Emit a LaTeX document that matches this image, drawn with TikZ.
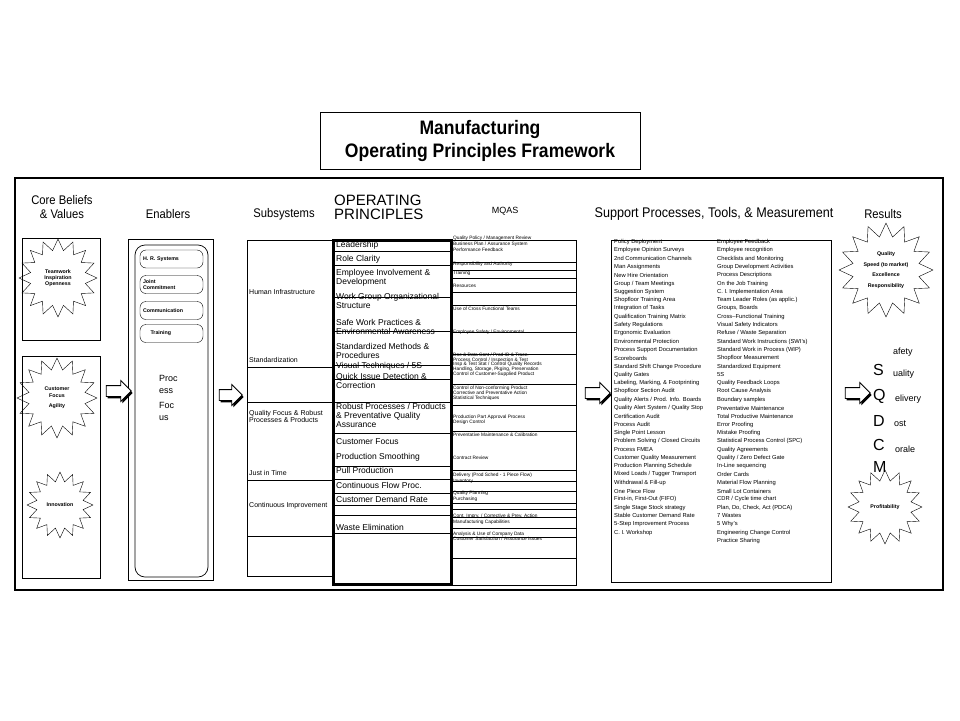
\documentclass[tikz,border=0pt]{standalone}
\usepackage{fontspec}
\setmainfont{Liberation Sans}
\newfontfamily\narrowsf[FakeStretch=0.9]{Liberation Sans}
\usetikzlibrary{shapes, arrows.meta, positioning, calc, shadows}

\tikzset{
  colbox/.style={draw, line width=0.7pt},
  heading/.style={font=\narrowsf\fontsize{12.5}{14}\selectfont, align=center, inner sep=0pt},
  burst/.style={draw, star, star points=16, star point ratio=1.4, minimum size=#1, inner sep=0pt, align=center, font=\bfseries\fontsize{5.3}{6.3}\selectfont},
  pill/.style={draw, rounded corners=6pt, minimum width=63pt, minimum height=18pt, text width=57pt, align=left, inner sep=1pt, font=\bfseries\fontsize{5.3}{6}\selectfont},
  principle/.style={anchor=west, inner sep=0pt, align=left, font=\fontsize{8.5}{9}\selectfont},
  subsys/.style={anchor=west, inner sep=0pt, align=left, font=\fontsize{7}{7.5}\selectfont},
  mqasitem/.style={anchor=west, inner sep=0pt, font=\fontsize{4.8}{5.2}\selectfont},
  toolitem/.style={anchor=west, inner sep=0pt, font=\fontsize{5.8}{6.5}\selectfont},
  blockarrow/.style={single arrow, draw, line width=0.8pt, fill=white, minimum height=25pt, text height=5pt, text depth=5pt, single arrow head extend=5pt, single arrow head indent=0pt, inner sep=0pt, general shadow={fill=black, shadow xshift=1.5pt, shadow yshift=-2pt}},
  bigletter/.style={anchor=west, inner sep=0pt, font=\fontsize{16}{16}\selectfont},
  wordend/.style={anchor=west, inner sep=0pt, font=\fontsize{9}{9}\selectfont},
}

\begin{document}
\begin{tikzpicture}[x=1pt, y=-1pt]
\useasboundingbox (0,0) rectangle (960,720);

% title and frame
\node[draw, line width=0.8pt, minimum width=320pt, minimum height=57pt, align=center, font=\narrowsf\bfseries\fontsize{19.5}{23}\selectfont] (title) at (480,141) {Manufacturing\\Operating Principles Framework};
\draw[line width=2pt] (15,178) rectangle (943,590);

% headings
\node[heading] (hbeliefs) at (62,207) {Core Beliefs\\\& Values};
\node[heading] (henablers) at (168,214) {Enablers};
\node[heading] (hsubsys) at (284,214) {Subsystems};
\node[anchor=west, inner sep=0pt, align=left, font=\fontsize{15}{14}\selectfont] (hprinc) at (334,207) {OPERATING\\PRINCIPLES};
\node[inner sep=0pt, font=\fontsize{9}{9}\selectfont] (hmqas) at (505,211) {MQAS};
\node[heading, font=\narrowsf\fontsize{14}{14}\selectfont] (hsupport) at (714,214) {Support Processes, Tools, \& Measurement};
\node[heading] (hresults) at (883,214) {Results};

% core beliefs
\draw[colbox] (22,238) rectangle (100,340);
\draw[colbox] (22,356) rectangle (100,578);
\node[burst=78pt] (team) at (58,278) {Teamwork\\Inspiration\\Openness};
\node[burst=80pt] (cust) at (57,398) {Customer\\Focus\\[4pt]Agility};
\node[burst=66pt] (innov) at (60,505) {Innovation};

% enablers
\draw[colbox] (128,239) rectangle (213,580);
\draw[colbox, rounded corners=10pt] (135,245) rectangle (208,577);
\node[pill] (hr) at (171.5,259) {H. R. Systems};
\node[pill] (joint) at (171.5,284.5) {Joint\\Commitment};
\node[pill] (comm) at (171.5,310.5) {Communication};
\node[pill, text width=52pt] (train) at (171.5,333.5) {\hspace{5pt}Training};
\node[anchor=north west, inner sep=0pt, align=left, font=\fontsize{9}{12}\selectfont] (focus) at (159,375) {Proc\\ess\\[3pt]Foc\\us};

% subsystems
\draw[colbox] (247,240) rectangle (333,576);
\foreach \y in {367,402,480,536} \draw[colbox] (247,\y) -- (333,\y);
\node[subsys] (human) at (249,292) {Human Infrastructure};
\node[subsys] (stand) at (249,360) {Standardization};
\node[subsys] (qfocus) at (249,416.5) {Quality Focus \& Robust\\Processes \& Products};
\node[subsys] (jit) at (249,473) {Just in Time};
\node[subsys] (cimp) at (249,506) {Continuous Improvement};

% operating principles
\foreach \y in {251,265,297,331,365,379,402,433,466,479,493,505,515,533} \draw[line width=0.6pt] (333,\y) -- (451,\y);
\node[principle] (p1) at (336,245) {Leadership};
\node[principle] (p2) at (336,259) {Role Clarity};
\node[principle] (p3) at (336,277.5) {Employee Involvement \&\\Development};
\node[principle] (p4) at (336,301) {Work Group Organizational\\Structure};
\node[principle] (p5) at (336,326.5) {Safe Work Practices \&\\Environmental Awareness};
\node[principle] (p6) at (336,350.5) {Standardized Methods \&\\Procedures};
\node[principle] (p7) at (336,366) {Visual Techniques / 5S};
\node[principle] (p8) at (336,380.5) {Quick Issue Detection \&\\Correction};
\node[principle] (p9) at (336,415) {Robust Processes / Products\\\& Preventative Quality\\Assurance};
\node[principle] (p10) at (336,442) {Customer Focus};
\node[principle] (p11) at (336,457) {Production Smoothing};
\node[principle] (p12) at (336,470) {Pull Production};
\node[principle] (p13) at (336,485) {Continuous Flow Proc.};
\node[principle] (p14) at (336,499) {Customer Demand Rate};
\node[principle] (p15) at (336,527) {Waste Elimination};
\draw[line width=3pt] (333,240) rectangle (451,584);

% MQAS
\draw[colbox] (451,240) -| (576,585) -- (451,585);
\foreach \y in {262,270,278,292,305,332,354,384,405,431,470,481,491,503,509,517,528,537,558} \draw[line width=0.4pt] (452,\y) -- (576,\y);
\foreach \y/\t [count=\i] in {238/{Quality Policy / Management Review}, 244/{Business Plan / Assurance System}, 250/{Performance Feedback}, 264/{Responsibility and Authority}, 273/{Training}, 286/{Resources}, 309/{Use of Cross Functional Teams}, 332/{Employee Safety / Environmental}, 355/{Doc \& Data Cont / Prod ID \& Trace.}, 360/{Process Control / Inspection \& Test}, 364.5/{Insp \& Test Stat / Control Quality Records}, 369/{Handling, Storage, Pkging, Preservation}, 374/{Control of Customer-Supplied Product}, 388/{Control of Non-conforming Product}, 393/{Corrective and Preventative Action}, 398/{Statistical Techniques}, 417/{Production Part Approval Process}, 422/{Design Control}, 435/{Preventative Maintenance \& Calibration}, 458/{Contract Review}, 475/{Delivery (Prod Sched - 1 Piece Flow)}, 481/{Inventory}, 493/{Quality Planning}, 499/{Purchasing}, 516/{Cont. Imprv. / Corrective \& Prev. Action}, 522/{Manufacturing Capabilities}, 534/{Analysis \& Use of Company Data}, 539/{Customer Satisfaction / Assurance Issues}}
  \node[mqasitem] (mq\i) at (453,\y) {\t};

% support processes, tools and measurement
\draw[colbox] (611,240) rectangle (831,582);
\foreach \t [count=\i from 0] in {Policy Deployment, Employee Opinion Surveys, 2nd Communication Channels, Man Assignments, New Hire Orientation, Group / Team Meetings, Suggestion System, Shopfloor Training Area, Integration of Tasks, Qualification Training Matrix, Safety Regulations, Ergonomic Evaluation, Environmental Protection, Process Support Documentation, Scoreboards, Standard Shift Change Procedure, Quality Gates, {Labeling, Marking, \& Footprinting}, Shopfloor Section Audit, Quality Alerts / Prod. Info. Boards, Quality Alert System / Quality Stop, Certification Audit, Process Audit, Single Point Lesson, Problem Solving / Closed Circuits, Process FMEA, Customer Quality Measurement, Production Planning Schedule, Mixed Loads / Tugger Transport, Withdrawal \& Fill-up, One Piece Flow, {First-in, First-Out (FIFO)}, Single Stage Stock strategy, Stable Customer Demand Rate, 5-Step Improvement Process, C. I. Workshop}
  \node[toolitem] (sl\i) at (614,242+8.3*\i) {\t};
\foreach \t [count=\i from 0] in {Employee Feedback, Employee recognition, Checklists and Monitoring, Group Development Activities, Process Descriptions, On the Job Training, C. I. Implementation Area, Team Leader Roles (as applic.), {Groups, Boards}, Cross--Functional Training, Visual Safety Indicators, Refuse / Waste Separation, Standard Work Instructions (SWI's), Standard Work in Process (WIP), Shopfloor Measurement, Standardized Equipment, 5S, Quality Feedback Loops, Root Cause Analysis, Boundary samples, Preventative Maintenance, Total Productive Maintenance, Error Proofing, Mistake Proofing, Statistical Process Control (SPC), Quality Agreements, Quality / Zero Defect Gate, In-Line sequencing, Order Cards, Material Flow Planning, Small Lot Containers, CDR / Cycle time chart, {Plan, Do, Check, Act (PDCA)}, 7 Wastes, 5 Why's, Engineering Change Control, Practice Sharing}
  \node[toolitem] (sr\i) at (717,242+8.3*\i) {\t};

% results
\node[burst=94pt, font=\bfseries\fontsize{5.3}{10.5}\selectfont] (quality) at (886,270) {Quality\\Speed (to market)\\Excellence\\Responsibility};
\node[burst=74pt] (profit) at (885,507) {Profitability};
\node[bigletter] (ls) at (873,370) {S};
\node[bigletter] (lq) at (873,396) {Q};
\node[bigletter] (ld) at (873,421) {D};
\node[bigletter] (lc) at (873,445) {C};
\node[bigletter] (lm) at (873,467) {M};
\node[wordend] (es) at (893,352) {afety};
\node[wordend] (eq) at (893,374) {uality};
\node[wordend] (ed) at (895,399) {elivery};
\node[wordend] (ec) at (894,424) {ost};
\node[wordend] (em) at (895,449) {orale};

% block arrows
\node[blockarrow] (arr1) at (116,391) {};
\node[blockarrow, minimum height=23pt] (arr2) at (228,395) {};
\node[blockarrow] (arr3) at (595,393) {};
\node[blockarrow] (arr4) at (855,393) {};
\end{tikzpicture}
\end{document}
